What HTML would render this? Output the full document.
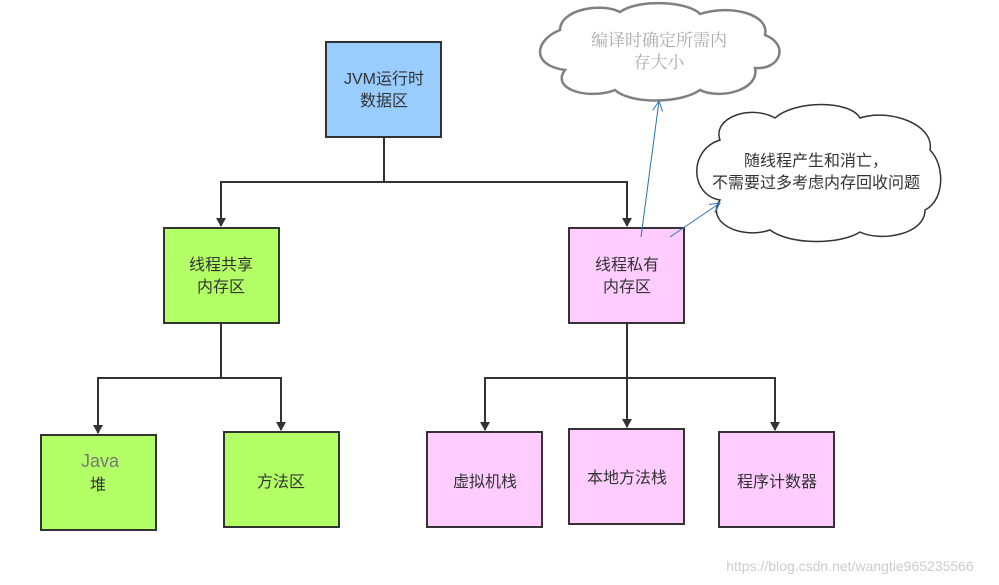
<!DOCTYPE html>
<html><head><meta charset="utf-8"><style>
body{margin:0;background:#fff}
svg{display:block}
text{font-family:"Liberation Sans","Noto Sans CJK SC",sans-serif;font-size:16px;fill:#333;text-anchor:middle}
</style></head><body>
<svg width="999" height="585" viewBox="0 0 999 585" xmlns="http://www.w3.org/2000/svg">
<defs>
<marker id="a" markerWidth="10" markerHeight="10" refX="8" refY="5" orient="auto" markerUnits="userSpaceOnUse"><path d="M0,0 L9,5 L0,10 Z" fill="#333"/></marker>
<marker id="b" markerWidth="12" markerHeight="12" refX="10" refY="6" orient="auto" markerUnits="userSpaceOnUse"><path d="M0,1 L10,6 L0,11" fill="none" stroke="#2a72b5" stroke-width="1"/></marker>
</defs>
<g stroke="#333" stroke-width="2" fill="none">
<path d="M384,137 V182 H221 V226" marker-end="url(#a)"/>
<path d="M384,182 H627 V226" marker-end="url(#a)"/>
<path d="M221,323 V378 H98 V433" marker-end="url(#a)"/>
<path d="M221,378 H281 V430" marker-end="url(#a)"/>
<path d="M627,323 V378 H485 V430" marker-end="url(#a)"/>
<path d="M627,378 V427" marker-end="url(#a)"/>
<path d="M627,378 H775 V430" marker-end="url(#a)"/>
</g>
<g stroke="#333" stroke-width="2">
<rect x="326" y="42" width="115" height="95" fill="#99ccff"/>
<rect x="164" y="228" width="115" height="95" fill="#b3ff66"/>
<rect x="569" y="228" width="115" height="95" fill="#ffccff"/>
<rect x="41" y="435" width="115" height="95" fill="#b3ff66"/>
<rect x="224" y="432" width="115" height="95" fill="#b3ff66"/>
<rect x="427" y="432" width="115" height="95" fill="#ffccff"/>
<rect x="569" y="429" width="115" height="95" fill="#ffccff"/>
<rect x="719" y="432" width="115" height="95" fill="#ffccff"/>
</g>
<text x="384" y="84">JVM运行时</text><text x="384" y="106">数据区</text>
<text x="221" y="270">线程共享</text><text x="221" y="292">内存区</text>
<text x="627" y="270">线程私有</text><text x="627" y="292">内存区</text>
<text x="100" y="467" style="fill:#777;font-size:18px">Java</text><text x="98" y="490">堆</text>
<text x="281" y="487">方法区</text>
<text x="485" y="487">虚拟机栈</text>
<text x="627" y="483">本地方法栈</text>
<text x="777" y="487">程序计数器</text>
<path d="M560,30 C560,10 600,2 620,12 C640,-2 690,2 700,14 C730,4 770,14 765,35 C790,45 780,70 755,68 C760,90 720,100 700,90 C680,104 630,104 615,90 C590,100 550,90 565,70 C530,65 535,40 560,30 Z" fill="#fff" stroke="#808080" stroke-width="2.5"/>
<text x="659" y="46" style="fill:#aaa;font-family:'Liberation Serif','Noto Serif CJK SC',serif;font-size:17px">编译时确定所需内</text>
<text x="659" y="68" style="fill:#aaa;font-family:'Liberation Serif','Noto Serif CJK SC',serif;font-size:17px">存大小</text>
<path d="M720,140 C712,118 750,104 775,118 C795,100 850,100 860,118 C890,108 935,125 930,150 C945,165 945,200 925,210 C925,235 880,242 860,232 C840,245 790,245 770,230 C740,240 705,222 720,200 C690,195 688,150 720,140 Z" fill="#fff" stroke="#333" stroke-width="1.5"/>
<text x="816" y="166">随线程产生和消亡，</text>
<text x="816" y="188">不需要过多考虑内存回收问题</text>
<g stroke="#2a72b5" stroke-width="1" fill="none">
<path d="M641,237 L659,101" marker-end="url(#b)"/>
<path d="M670,237 L720,203" marker-end="url(#b)"/>
</g>
<text x="850" y="571" style="fill:#ccc;font-size:14px">https://blog.csdn.net/wangtie965235566</text>
</svg>
</body></html>
